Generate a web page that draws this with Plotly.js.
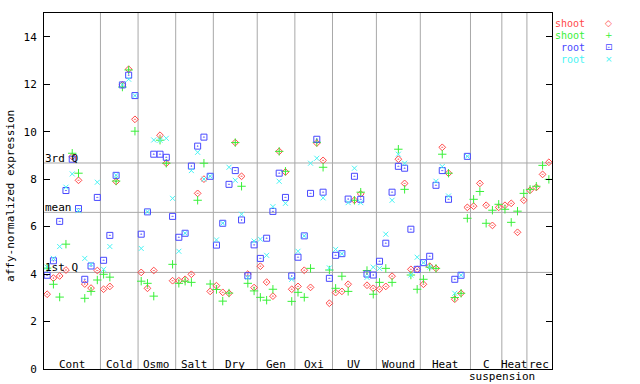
<!DOCTYPE html>
<html>
<head>
<meta charset="utf-8">
<script src="https://cdn.plot.ly/plotly-3.0.1.min.js"></script>
<style>html,body{margin:0;padding:0;background:#fff;}#chart{width:640px;height:384px;}</style>
</head>
<body>
<div id="chart"></div>
<script>
// ---- data ----
const groupLabels = ['Cont','Cold','Osmo','Salt','Dry','Gen','Oxi','UV','Wound','Heat','C','Heat','rec'];
const groupSizes  = [9,6,6,6,7,6,6,7,7,8,5,4,4];
const secondLine  = {after: 'C', text: 'suspension'};
const statNames   = ['3rd Q','mean','1st Q'];
const statValues  = [8.68, 6.60, 4.07];
const yTicks      = [0,2,4,6,8,10,12,14];
const yTitle      = 'affy-normalized expression';

const shootRed = [3.15,3.83,3.92,4.17,8.95,7.95,3.58,3.41,4.15,
  3.36,3.48,7.90,11.97,12.63,10.52,
  4.07,3.40,4.15,9.85,8.67,3.72,
  3.72,3.78,3.99,7.40,8.00,3.27,
  3.51,3.23,3.19,9.54,8.12,4.00,3.43,
  4.33,3.66,3.07,9.17,8.30,3.36,
  3.48,4.16,3.44,9.52,8.79,2.77,
  3.22,3.27,3.57,7.11,7.38,3.53,3.40,
  3.36,3.48,3.91,8.84,7.82,4.20,4.20,
  3.57,4.33,4.24,9.34,8.25,2.94,3.19,6.81,
  6.86,7.82,6.90,6.05,6.81,
  6.90,6.98,5.76,7.11,
  7.53,7.65,8.20,8.71];
const shootGreen = [4.25,3.57,3.03,5.26,9.09,8.25,2.98,3.27,3.75,
  3.99,3.87,7.92,11.88,12.60,10.02,
  3.70,3.61,3.07,9.64,8.67,4.41,
  3.61,3.70,3.65,7.11,8.67,3.58,
  3.35,2.86,3.20,9.54,7.70,3.61,3.29,
  3.02,2.90,3.36,9.17,8.33,2.85,
  3.23,3.02,4.24,9.55,8.50,4.17,
  3.40,3.91,3.27,7.11,7.45,4.15,3.15,
  3.65,4.24,3.65,9.26,7.57,3.96,3.36,
  3.78,4.29,4.24,9.05,8.25,3.01,3.19,6.35,
  7.15,7.48,6.14,6.69,6.94,
  6.73,6.18,6.65,7.40,
  7.57,7.70,8.58,7.99];
const rootBlue = [3.95,4.56,6.22,7.52,8.84,6.76,3.78,4.34,7.23,
  4.58,5.63,8.16,11.97,12.38,11.52,
  5.68,6.62,9.05,9.05,8.92,6.43,
  5.55,5.72,8.55,9.39,9.77,8.12,
  5.22,6.14,7.78,8.36,6.28,3.93,5.23,
  4.66,5.51,6.64,8.25,7.23,3.92,
  4.71,5.61,7.40,9.68,7.45,3.82,
  4.79,4.86,7.16,8.12,7.15,4.00,3.96,
  4.54,5.30,7.45,8.54,8.46,5.89,4.20,
  4.48,4.75,7.74,8.36,7.15,3.78,3.95,8.96,
  null,null,null,null,null,
  null,null,null,null,
  null,null,null,null];
const rootCyan = [4.29,4.66,5.16,7.66,8.22,6.67,4.66,4.41,7.87,
  4.20,5.16,8.16,11.97,12.21,11.52,
  5.08,6.62,9.65,9.64,9.72,7.19,
  4.96,5.72,8.36,9.13,8.00,8.12,
  5.44,6.14,8.50,7.95,6.52,3.86,5.39,
  5.47,4.79,6.84,7.91,6.98,3.78,
  4.96,5.61,8.67,8.88,7.21,4.26,
  5.04,4.86,7.01,8.46,7.01,3.86,4.29,
  4.24,5.68,7.11,9.05,8.67,3.96,4.71,
  4.48,4.29,7.91,8.53,7.29,3.19,3.95,8.96,
  null,null,null,null,null,
  null,null,null,null,
  null,null,null,null];

const seriesNames  = ['shoot','shoot','root','root'];
const seriesValues = [shootRed, shootGreen, rootBlue, rootCyan];
const seriesColors = ['#ff4848','#38f038','#4848ff','#48f4f4'];
const seriesSymbols = ['diamond-open-dot','cross-thin-open','square-open-dot','x-thin-open'];
const seriesSizes = [5.2,6,6,5];
const legendGlyphs = ['\u25C7','+','\u22A1','\u00D7'];

// ---- build ----
const FONT = 'DejaVu Sans Mono, Liberation Mono, monospace';
const nSamples = groupSizes.reduce((a,b)=>a+b,0);
const xs = Array.from({length:nSamples},(_,i)=>i+1);

const traces = seriesValues.map((vals,k)=>({
  type:'scatter', mode:'markers', x: xs, y: vals, name: seriesNames[k],
  showlegend:false, hoverinfo:'x+y',
  marker:{symbol:seriesSymbols[k], size:seriesSizes[k], color:seriesColors[k], line:{width:1, color:seriesColors[k]}}
}));

const shapes = [];
const annotations = [];
let acc = 0;
groupSizes.forEach((n,i)=>{
  const start = acc + 0.5, end = acc + n + 0.5;
  acc += n;
  annotations.push({xref:'x', yref:'paper', x:(start+end)/2, y:0, xanchor:'center', yanchor:'bottom',
    text:groupLabels[i], showarrow:false, font:{family:FONT,size:11,color:'#000'}, yshift:-3, borderpad:0});
  if (groupLabels[i]===secondLine.after) {
    annotations.push({xref:'x', yref:'paper', x:end, y:0, xanchor:'center', yanchor:'top',
      text:secondLine.text, showarrow:false, font:{family:FONT,size:11,color:'#000'}, yshift:0, borderpad:0});
  }
  if (i < groupSizes.length-1) {
    shapes.push({type:'line', xref:'x', yref:'paper', x0:end, x1:end, y0:0, y1:1,
      line:{color:'#a8a8a8', width:1}, layer:'below'});
  }
});
statValues.forEach((v,i)=>{
  shapes.push({type:'line', xref:'paper', yref:'y', x0:0, x1:1, y0:v, y1:v,
    line:{color:'#a8a8a8', width:1}, layer:'below'});
  annotations.push({xref:'paper', yref:'y', x:0, y:v, xanchor:'left', yanchor:'bottom',
    text:statNames[i], showarrow:false, font:{family:FONT,size:11,color:'#000'}, yshift:-3, xshift:0, borderpad:0});
});
// y-axis title
annotations.push({xref:'paper', yref:'paper', x:-0.065, y:0.486, xanchor:'center', yanchor:'middle',
  textangle:-90, text:yTitle, showarrow:false, font:{family:FONT,size:11,color:'#000'}, borderpad:0});
// legend (text right, symbol at far right)
seriesNames.forEach((nm,k)=>{
  const yy = 0.971 - k*0.0337;
  annotations.push({xref:'paper', yref:'paper', x:1.067, y:yy, xanchor:'right', yanchor:'middle',
    text:nm, showarrow:false, font:{family:FONT,size:10,color:seriesColors[k]}, borderpad:0});
  annotations.push({xref:'paper', yref:'paper', x:1.112, y:yy, xanchor:'center', yanchor:'middle',
    text:legendGlyphs[k], showarrow:false, font:{family:'DejaVu Sans',size:9,color:seriesColors[k]}, borderpad:0});
});

const layout = {
  width:640, height:384,
  margin:{l:44, r:88, t:13, b:15, pad:0},
  paper_bgcolor:'#fff', plot_bgcolor:'#fff',
  showlegend:false,
  font:{family:FONT, size:11, color:'#000'},
  xaxis:{range:[0.5, nSamples+0.5], showgrid:false, zeroline:false, showticklabels:false, ticks:'',
    showline:true, linecolor:'#000', linewidth:1, mirror:true, fixedrange:true},
  yaxis:{range:[0,15], tickvals:yTicks, ticktext:yTicks.map(String), ticks:'inside', ticklen:6, tickcolor:'#000',
    showgrid:false, zeroline:false, showline:true, linecolor:'#000', linewidth:1, mirror:'ticks',
    ticklabelstandoff:4, tickfont:{family:FONT,size:11,color:'#000'}},
  shapes: shapes,
  annotations: annotations
};
Plotly.newPlot('chart', traces, layout, {staticPlot:true, displayModeBar:false});
</script>
</body>
</html>
